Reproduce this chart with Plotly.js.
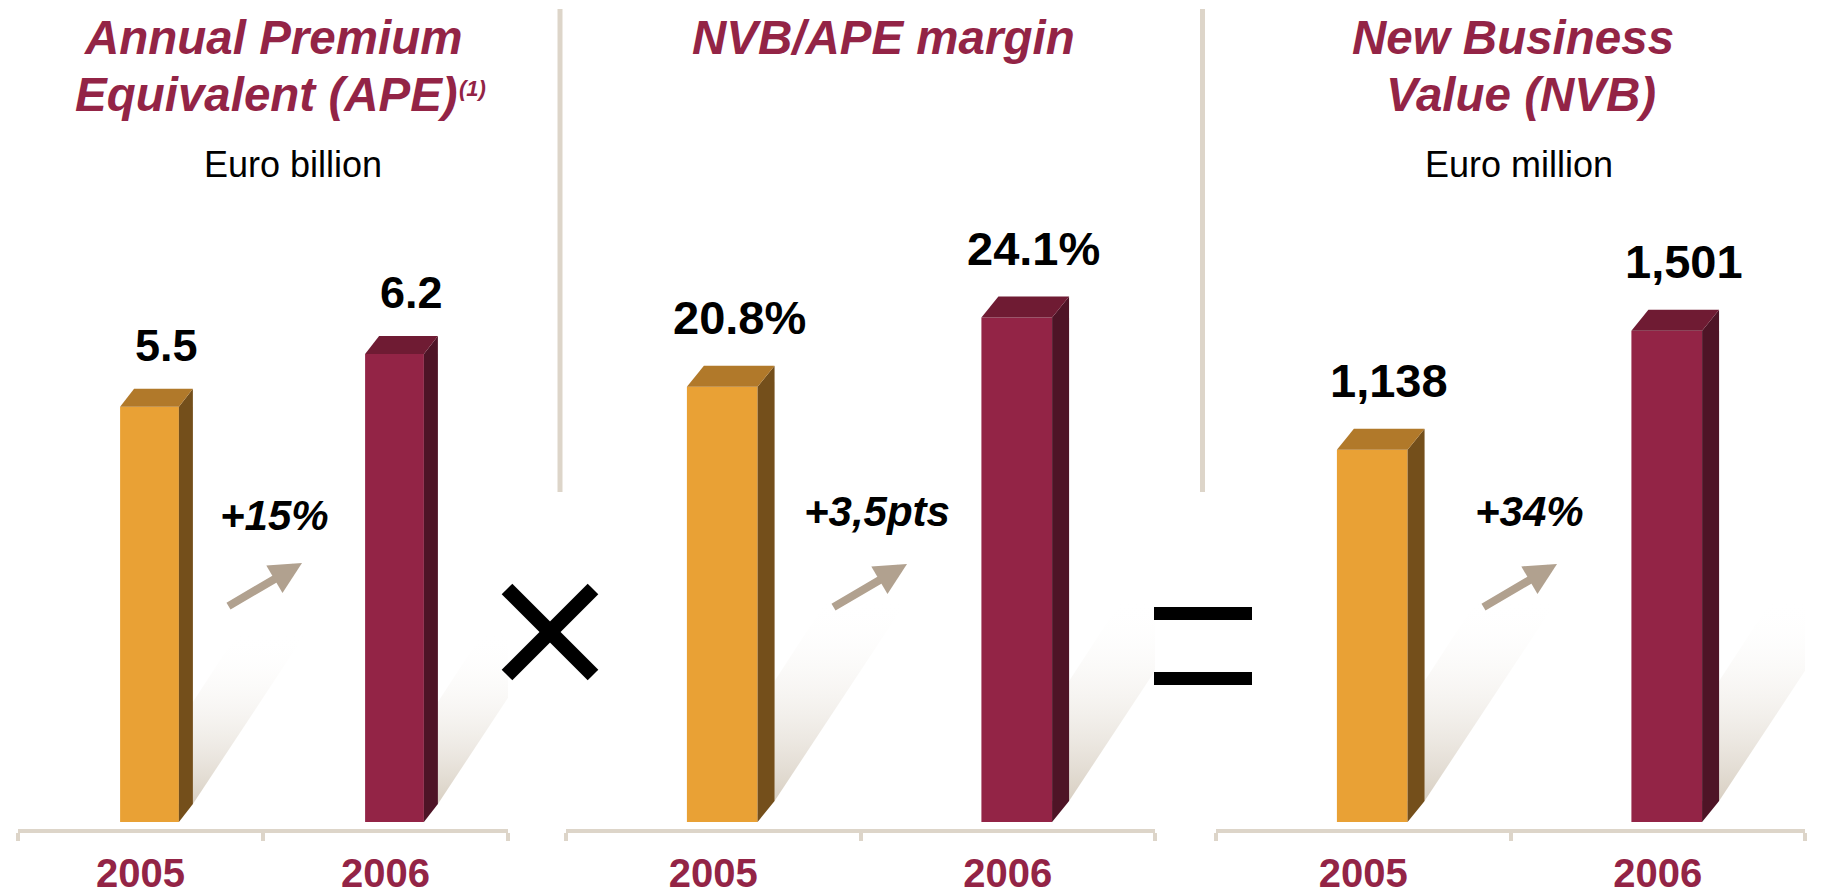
<!DOCTYPE html>
<html>
<head>
<meta charset="utf-8">
<script src="https://cdn.plot.ly/plotly-3.0.1.min.js"></script>
<style>
html, body { margin: 0; padding: 0; background: #ffffff; }
#chart { width: 1834px; height: 895px; }
</style>
</head>
<body>
<div id="chart"></div>
<script>
// ---------------- data ----------------
const categories = ['2005', '2006'];
const apeValues = [5.5, 6.2];          // Euro billion
const marginValues = [20.8, 24.1];     // NVB/APE margin, %
const nvbValues = [1138, 1501];        // Euro million
const growthLabels = ['+15%', '+3,5pts', '+34%'];
const titleLines = [
  ['Annual Premium', 'Equivalent (APE)'],
  ['NVB/APE margin'],
  ['New Business', 'Value (NVB)']
];
const titleNote = '(1)';
const unitLabels = ['Euro billion', '', 'Euro million'];

// ---------------- styling / geometry (pixels) ----------------
const W = 1834, H = 895;
const FONT = 'Arial, "Liberation Sans", Helvetica, sans-serif';
const TITLE_COLOR = '#932446';
const LINE_COLOR = '#DDD5C9';
const ARROW_COLOR = '#B1A18F';
const frontColors = ['#E9A135', '#932446'];
const topColors = ['#B1792A', '#6F1B33'];
const sideColors = ['#744F1B', '#4E1426'];

const plotTop = 0, plotBottom = 829, zeroPx = 822;
const barWidth = 0.24, barShiftPx = 9;

const formats = [
  v => v.toFixed(1),
  v => v.toFixed(1) + '%',
  v => v.toLocaleString('en-US')
];

const panels = [
  {values: apeValues,    left: 18,   right: 508,  pxPerUnit: 75.5,   dX: 14, dY: 18, shadowScale: 0.85,
   labelSize: 45, labelShiftY: 61, titleX: [273, 266], unitX: 293, growthX: 274, growthY: 515, arrowHead: [302, 563]},
  {values: marginValues, left: 566,  right: 1155, pxPerUnit: 20.93,  dX: 17, dY: 21, shadowScale: 1.0,
   labelSize: 47, labelShiftY: 69, titleX: [883], unitX: 0, growthX: 877, growthY: 512, arrowHead: [907, 564]},
  {values: nvbValues,    left: 1216, right: 1805, pxPerUnit: 0.3272, dX: 17, dY: 21, shadowScale: 1.0,
   labelSize: 47, labelShiftY: 69, titleX: [1513, 1521], unitX: 1519, growthX: 1529, growthY: 512, arrowHead: [1557, 564]}
];

const traces = [];
const layout = {
  width: W, height: H, autosize: false,
  margin: {l: 0, r: 0, t: 0, b: 0},
  paper_bgcolor: '#ffffff', plot_bgcolor: 'rgba(0,0,0,0)',
  showlegend: false,
  shapes: [], annotations: []
};

const px2paperX = px => px / W;
const px2paperY = py => 1 - py / H;

panels.forEach((p, k) => {
  const suffix = k === 0 ? '' : String(k + 1);
  const xa = 'x' + suffix, ya = 'y' + suffix;
  const catPx = (p.right - p.left) / 2;
  const offset = -barWidth / 2 + barShiftPx / catPx;
  const dxu = p.dX / catPx, dyu = p.dY / p.pxPerUnit;
  const xs = categories.map((c, i) => i);

  // shadows (behind bars)
  p.values.forEach((v, i) => {
    const R = i + offset + barWidth;
    const cx = R + dxu, cy = dyu;
    const s = p.shadowScale;
    const pts = [[0, 0], [0, 120 * s], [52 * s, 200 * s], [132 * s, 200 * s], [0, 0]];
    traces.push({
      type: 'scatter', mode: 'lines', xaxis: xa, yaxis: ya,
      x: pts.map(q => cx + q[0] / catPx),
      y: pts.map(q => cy + q[1] / p.pxPerUnit),
      fill: 'toself', line: {width: 0},
      fillgradient: {type: 'vertical', colorscale: [[0, 'rgba(216,207,194,1)'], [1, 'rgba(255,255,255,0)']]},
      hoverinfo: 'skip'
    });
  });

  // front faces
  traces.push({
    type: 'bar', xaxis: xa, yaxis: ya,
    x: xs, y: p.values, width: barWidth, offset: offset,
    marker: {color: frontColors, line: {width: 0}},
    hoverinfo: 'skip'
  });

  // side and top faces
  p.values.forEach((v, i) => {
    const L = i + offset, R = L + barWidth;
    traces.push({
      type: 'scatter', mode: 'lines', xaxis: xa, yaxis: ya,
      x: [R, R + dxu, R + dxu, R, R],
      y: [0, dyu, v + dyu, v, 0],
      fill: 'toself', fillcolor: sideColors[i], line: {width: 0}, hoverinfo: 'skip'
    });
    traces.push({
      type: 'scatter', mode: 'lines', xaxis: xa, yaxis: ya,
      x: [L, L + dxu, R + dxu, R, L],
      y: [v, v + dyu, v + dyu, v, v],
      fill: 'toself', fillcolor: topColors[i], line: {width: 0}, hoverinfo: 'skip'
    });
    // value label
    layout.annotations.push({
      xref: xa, yref: ya, x: L + barWidth / 2, y: v,
      xshift: 17, yshift: p.labelShiftY, xanchor: 'center', yanchor: 'middle',
      text: formats[k](v), showarrow: false,
      font: {family: FONT, size: p.labelSize, color: '#000000', weight: 'bold'}
    });
  });

  layout['xaxis' + suffix] = {
    domain: [p.left / W, p.right / W], anchor: ya,
    range: [-0.5, 1.5], fixedrange: true,
    tickmode: 'array', tickvals: xs, ticktext: categories, ticks: '',
    showline: true, linecolor: LINE_COLOR, linewidth: 4,
    showgrid: false, zeroline: false,
    ticklabelstandoff: 6,
    tickfont: {family: FONT, size: 40, color: TITLE_COLOR, weight: 'bold'},
    minor: {tickmode: 'array', tickvals: [-0.5, 0.5, 1.5], ticks: 'outside', ticklen: 8,
            tickwidth: 4, tickcolor: LINE_COLOR, showgrid: false}
  };
  layout['yaxis' + suffix] = {
    domain: [1 - plotBottom / H, 1 - plotTop / H], anchor: xa,
    range: [-(plotBottom - zeroPx) / p.pxPerUnit, (zeroPx - plotTop) / p.pxPerUnit],
    visible: false, fixedrange: true, showgrid: false, zeroline: false
  };

  // titles
  titleLines[k].forEach((line, j) => {
    layout.annotations.push({
      xref: 'paper', yref: 'paper', x: px2paperX(p.titleX[j]), y: px2paperY(37 + 57 * j),
      xanchor: 'center', yanchor: 'middle', showarrow: false, text: line,
      font: {family: FONT, size: 47.5, color: TITLE_COLOR, weight: 'bold', style: 'italic'}
    });
  });
  if (unitLabels[k]) {
    layout.annotations.push({
      xref: 'paper', yref: 'paper', x: px2paperX(p.unitX), y: px2paperY(164),
      xanchor: 'center', yanchor: 'middle', showarrow: false, text: unitLabels[k],
      font: {family: FONT, size: 36, color: '#000000'}
    });
  }

  // growth label and arrow
  layout.annotations.push({
    xref: 'paper', yref: 'paper', x: px2paperX(p.growthX), y: px2paperY(p.growthY),
    xanchor: 'center', yanchor: 'middle', showarrow: false, text: growthLabels[k],
    font: {family: FONT, size: 42, color: '#000000', weight: 'bold', style: 'italic'}
  });
  layout.annotations.push({
    xref: 'paper', yref: 'paper', x: px2paperX(p.arrowHead[0]), y: px2paperY(p.arrowHead[1]),
    ax: -75, ay: 44, text: '', showarrow: true,
    arrowhead: 2, arrowsize: 0.8, arrowwidth: 8, arrowcolor: ARROW_COLOR, standoff: 0
  });
});

// footnote marker on the first title
layout.annotations.push({
  xref: 'paper', yref: 'paper', x: px2paperX(472), y: px2paperY(89),
  xanchor: 'center', yanchor: 'middle', showarrow: false, text: titleNote,
  font: {family: FONT, size: 22, color: TITLE_COLOR, weight: 'bold', style: 'italic'}
});

// separators
[560, 1202.5].forEach(x => {
  layout.shapes.push({type: 'line', xref: 'paper', yref: 'paper',
    x0: px2paperX(x), x1: px2paperX(x), y0: px2paperY(9), y1: px2paperY(492),
    line: {color: LINE_COLOR, width: 5}});
});

// multiplication sign
[[507, 589, 593, 675], [507, 675, 593, 589]].forEach(s => {
  layout.shapes.push({type: 'line', xref: 'paper', yref: 'paper',
    x0: px2paperX(s[0]), y0: px2paperY(s[1]), x1: px2paperX(s[2]), y1: px2paperY(s[3]),
    line: {color: '#000000', width: 15}});
});
// equals sign
[[607, 620], [672, 685]].forEach(r => {
  layout.shapes.push({type: 'rect', xref: 'paper', yref: 'paper',
    x0: px2paperX(1154), x1: px2paperX(1252), y0: px2paperY(r[0]), y1: px2paperY(r[1]),
    fillcolor: '#000000', line: {width: 0}});
});

Plotly.newPlot('chart', traces, layout, {staticPlot: true, displayModeBar: false});
</script>
</body>
</html>
